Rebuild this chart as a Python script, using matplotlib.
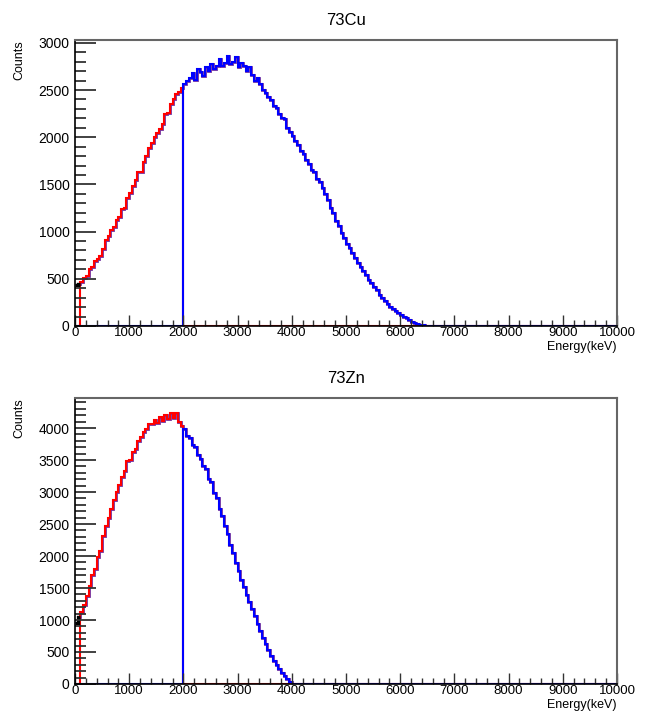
import numpy as np
import matplotlib
matplotlib.use("Agg")
import matplotlib.pyplot as plt
from matplotlib.ticker import MultipleLocator

plt.rcParams['font.family'] = ['Liberation Sans', 'DejaVu Sans']

# 50 keV bins, 0 - 10000 keV
bin_width = 50
n_bins = 200

# 73Cu spectrum (counts per bin)
cu_black = [430, 445]                      # 0 - 100 keV
cu_red = [470, 510, 530, 600, 620, 690, 710, 740, 820, 910,
          950, 1020, 1050, 1120, 1150, 1240, 1250, 1360, 1410, 1480,
          1550, 1630, 1630, 1740, 1800, 1890, 1940, 2000, 2050, 2090,
          2140, 2250, 2260, 2350, 2400, 2460, 2480, 2520]   # 100 - 2000 keV
cu_blue = [2560, 2600, 2630, 2680, 2610, 2720, 2690, 2650, 2740, 2700,
           2780, 2720, 2760, 2830, 2750, 2790, 2860, 2780, 2800, 2850,
           2740, 2790, 2760, 2700, 2740, 2660, 2600, 2630, 2560, 2500,
           2470, 2430, 2390, 2330, 2310, 2250, 2200, 2190, 2100, 2060,
           2010, 1960, 1920, 1850, 1820, 1760, 1720, 1650, 1630, 1560,
           1530, 1460, 1400, 1330, 1250, 1200, 1110, 1060, 990, 930,
           870, 830, 770, 720, 670, 630, 580, 540, 490, 460,
           410, 380, 330, 300, 260, 235, 200, 185, 160, 140,
           115, 100, 80, 60, 45, 35, 25, 15, 10, 4]          # 2000 - 6500 keV

# 73Zn spectrum
zn_black = [960, 1040]
zn_red = [1120, 1230, 1380, 1530, 1700, 1790, 1990, 2080, 2310, 2470,
          2600, 2740, 2870, 3000, 3110, 3240, 3330, 3490, 3500, 3630,
          3670, 3800, 3860, 3940, 3990, 4060, 4070, 4120, 4080, 4170,
          4110, 4200, 4140, 4230, 4160, 4240, 4090, 4040]
zn_blue = [3980, 3880, 3850, 3740, 3710, 3580, 3520, 3400, 3360, 3200,
           3150, 2990, 2900, 2740, 2620, 2470, 2340, 2180, 2050, 1890,
           1760, 1620, 1510, 1390, 1280, 1170, 1060, 940, 830, 720,
           620, 530, 440, 360, 290, 230, 175, 120, 75, 35]

edges = np.arange(n_bins + 1) * bin_width


def full(vals, start):
    h = np.zeros(n_bins)
    h[start:start + len(vals)] = vals
    return h


def draw(ax, black, red, blue, title, ymax):
    h_black = np.array(black, dtype=float)
    h_red = full(red, 2)
    h_blue = full(blue, 40)
    h_sum = full(black, 0) + h_red + h_blue

    ax.stairs(h_sum, edges, color='#7030a0', lw=2.0, baseline=None)
    ax.stairs(h_red, edges, color='red', lw=1.5, baseline=None)
    ax.stairs(h_blue, edges, color='blue', lw=1.5, baseline=None)
    ax.stairs(h_black, edges[:3], color='black', lw=2.4, baseline=None)

    ax.set_xlim(0, 10000)
    ax.set_ylim(0, ymax)
    ax.xaxis.set_major_locator(MultipleLocator(1000))
    ax.xaxis.set_minor_locator(MultipleLocator(200))
    ax.yaxis.set_major_locator(MultipleLocator(500))
    ax.yaxis.set_minor_locator(MultipleLocator(100))
    ax.tick_params(axis='y', which='major', direction='in', length=15,
                   width=1.3, color='#333333', labelsize=10, pad=4)
    ax.tick_params(axis='y', which='minor', direction='in', length=8,
                   width=1.3, color='#333333')
    ax.tick_params(axis='x', which='major', direction='in', length=8,
                   width=1, color='#333333', labelsize=9.5, pad=0.5)
    ax.tick_params(axis='x', which='minor', direction='in', length=4,
                   width=1, color='#333333')
    for s in ['top', 'right']:
        ax.spines[s].set_color('#666666')
        ax.spines[s].set_linewidth(1.5)
    for s in ['left', 'bottom']:
        ax.spines[s].set_color('black')
        ax.spines[s].set_linewidth(1.2)

    ax.set_title(title, fontsize=12, pad=11)
    ax.text(-0.103, 1.0, 'Counts', rotation=90, ha='center', va='top',
            fontsize=9, transform=ax.transAxes)
    ax.text(1.0, -0.053, 'Energy(keV)', ha='right', va='top',
            fontsize=9, transform=ax.transAxes)


fig = plt.figure(figsize=(6.47, 7.11), dpi=100)
ax1 = fig.add_axes([0.1159, 0.5415, 0.8377, 0.4022])
ax2 = fig.add_axes([0.1159, 0.0380, 0.8377, 0.4022])

draw(ax1, cu_black, cu_red, cu_blue, '73Cu', 3030)
draw(ax2, zn_black, zn_red, zn_blue, '73Zn', 4470)

fig.savefig('out.png', dpi=100)
